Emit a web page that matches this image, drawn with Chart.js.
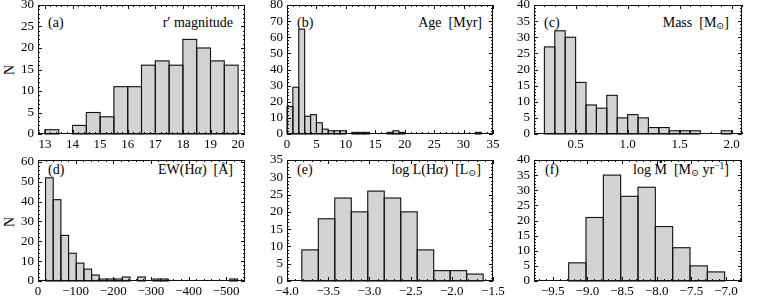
<!DOCTYPE html>
<html><head><meta charset="utf-8">
<script src="https://cdn.jsdelivr.net/npm/chart.js@4/dist/chart.umd.min.js"></script>
<style>
html,body{margin:0;padding:0;background:#fff;}
body{width:764px;height:296px;position:relative;overflow:hidden;font-family:"Liberation Serif","DejaVu Serif",serif;color:#000;}
canvas{position:absolute;}
.lab{position:absolute;font-size:14px;line-height:14px;white-space:nowrap;}
.lab sub{font-size:9.5px;line-height:0;vertical-align:-2px;}
.lab sup{font-size:9.5px;line-height:0;vertical-align:5px;}
.mdot{position:relative;display:inline-block;}
.mdot .d{position:absolute;left:0;right:0;top:-8px;text-align:center;font-size:15px;line-height:14px;font-weight:bold;}
.ylab{position:absolute;width:20px;height:20px;line-height:20px;text-align:center;font-size:14px;transform:rotate(-90deg);}
</style></head><body>
<div class="ylab" style="left:0px;top:60px;">N</div>
<div class="ylab" style="left:0px;top:212px;">N</div>
<div class="lab" style="left:48px;top:16px;">(a)</div>
<div class="lab" style="right:531px;top:16px;">r′ magnitude</div>
<div class="lab" style="left:297px;top:16px;">(b)</div>
<div class="lab" style="right:282px;top:16px;">Age&nbsp;&nbsp;[Myr]</div>
<div class="lab" style="left:544px;top:16px;">(c)</div>
<div class="lab" style="right:35px;top:16px;">Mass&nbsp;&nbsp;[M<sub>⊙</sub>]</div>
<div class="lab" style="left:48px;top:163px;">(d)</div>
<div class="lab" style="right:531px;top:163px;">EW(H<i>α</i>)&nbsp;&nbsp;[Å]</div>
<div class="lab" style="left:297px;top:163px;">(e)</div>
<div class="lab" style="right:283px;top:163px;">log L(H<i>α</i>)&nbsp;&nbsp;[L<sub>⊙</sub>]</div>
<div class="lab" style="left:545px;top:163px;">(f)</div>
<div class="lab" style="right:35px;top:163px;">log <span class="mdot">M<span class="d">·</span></span>&nbsp;&nbsp;[M<sub>⊙</sub> yr<sup>−1</sup>]</div>
<script>
// ---------- data ----------
// (a) r' magnitude
const rmagBinCenters = [13.25,13.75,14.25,14.75,15.25,15.75,16.25,16.75,17.25,17.75,18.25,18.75,19.25,19.75];
const rmagCounts     = [1,0,2,5,4,11,11,16,17,16,22,20,17,16];
// (b) Age [Myr]
const ageBinCenters = [0.5,1.5,2.5,3.5,4.5,5.5,6.5,7.5,8.5,9.5,10.5,11.5,12.5,13.5,14.5,15.5,16.5,17.5,18.5,19.5,20.5,21.5,22.5,23.5,24.5,25.5,26.5,27.5,28.5,29.5,30.5,31.5,32.5];
const ageCounts     = [17,29,65,11,12,7,3,2,2,2,0,1,1,1,0,0,0,1,2,1,0,0,0,0,0,0,0,0,0,0,0,0,1];
// (c) Mass [Msun]
const massBinCenters = [0.25,0.35,0.45,0.55,0.65,0.75,0.85,0.95,1.05,1.15,1.25,1.35,1.45,1.55,1.65,1.75,1.85,1.95];
const massCounts     = [27,32,30,16,9,8,12,5,6,5,2,2,1,1,1,0,0,1];
// (d) EW(Halpha) [A]
const ewBinCenters = [-30.2,-50.6,-71.0,-91.4,-111.8,-132.2,-152.6,-173.0,-193.4,-213.8,-234.2,-254.6,-275.0,-295.4,-315.8,-336.2,-356.6,-377.0,-397.4,-417.8,-438.2,-458.6,-479.0,-499.4,-519.8];
const ewCounts     = [52,41,23,14,9,6,3,1,1,1,2,0,2,0,1,1,0,0,0,0,0,0,0,0,1];
// (e) log L(Halpha) [Lsun]
const lhaBinCenters = [-3.72,-3.52,-3.32,-3.12,-2.92,-2.72,-2.52,-2.32,-2.12,-1.92,-1.72];
const lhaCounts     = [9,18,24,20,26,24,20,9,3,3,2];
// (f) log Mdot [Msun/yr]
const mdotBinCenters = [-9.145,-8.895,-8.645,-8.395,-8.145,-7.895,-7.645,-7.395,-7.145];
const mdotCounts     = [6,21,35,28,31,18,11,5,3];

// ---------- axes ----------
const xAxes = {
  a:{min:12.75,max:20.25,step:1,minor:0.2,dec:0},
  b:{min:0,max:35,step:5,minor:1,dec:0},
  c:{min:0.1,max:2.1,step:0.5,minor:0.1,dec:1},
  d:{min:-550,max:0,step:100,minor:20,dec:0,reverse:true},
  e:{min:-4.0,max:-1.5,step:0.5,minor:0.1,dec:1},
  f:{min:-9.77,max:-6.77,step:0.5,minor:0.1,dec:1}
};
const yAxes = {
  a:{max:30,step:5,minor:1}, b:{max:80,step:10,minor:2}, c:{max:40,step:5,minor:1},
  d:{max:61,step:10,minor:2}, e:{max:35,step:5,minor:1}, f:{max:40,step:5,minor:1}
};

// ---------- layout ----------
const FONT = "'Liberation Serif','DejaVu Serif',serif";
const ML=36, MT=8, MR=18, MB=22;
const panels = [
  {k:'a', L:38,  T:5,   W:207, H:129, c:rmagBinCenters, n:rmagCounts},
  {k:'b', L:287, T:5,   W:206, H:129, c:ageBinCenters,  n:ageCounts},
  {k:'c', L:534, T:5,   W:208, H:129, c:massBinCenters, n:massCounts},
  {k:'d', L:38,  T:160, W:207, H:121, c:ewBinCenters,   n:ewCounts},
  {k:'e', L:287, T:160, W:206, H:121, c:lhaBinCenters,  n:lhaCounts},
  {k:'f', L:534, T:160, W:208, H:121, c:mdotBinCenters, n:mdotCounts}
];

function fmt(v, dec){
  const s = Math.abs(v).toFixed(dec);
  return (v < -1e-12 ? '\u2212' : '') + s;
}
function niceTicks(s, step){
  const lo = Math.min(s.min, s.max), hi = Math.max(s.min, s.max);
  const t = [];
  for (let k = Math.ceil(lo/step - 1e-9); k <= Math.floor(hi/step + 1e-9); k++){
    t.push({value: Math.round(k*step*1e6)/1e6});
  }
  if (s.options.reverse) t.reverse();
  s.ticks = t;
}

const edgePlugin = {
  id:'edges',
  afterDatasetsDraw(chart){
    const ctx = chart.ctx;
    const meta = chart.getDatasetMeta(0);
    ctx.save();
    ctx.strokeStyle = '#111';
    ctx.lineWidth = 1.1;
    meta.data.forEach(el=>{
      const p = el.getProps(['x','y','base','width'], true);
      if (Math.abs(p.base - p.y) < 0.01) return;
      ctx.strokeRect(p.x - p.width/2, p.y, p.width, p.base - p.y);
    });
    ctx.restore();
  }
};

const framePlugin = {
  id:'frame',
  afterDraw(chart){
    const ctx = chart.ctx, a = chart.chartArea;
    const xs = chart.scales.x, ys = chart.scales.y;
    const xo = chart.options.scales.x._minor, yo = chart.options.scales.y._minor;
    ctx.save();
    ctx.strokeStyle = '#111';
    ctx.lineWidth = 1;
    ctx.beginPath();
    const isMajor = (v, st) => Math.abs(v/st - Math.round(v/st)) < 1e-6;
    const xst = chart.options.scales.x._step, yst = chart.options.scales.y._step;
    const drawX = (v, len) => {
      const px = Math.round(xs.getPixelForValue(v)) + 0.5;
      ctx.moveTo(px, a.bottom); ctx.lineTo(px, a.bottom - len);
      ctx.moveTo(px, a.top); ctx.lineTo(px, a.top + len);
    };
    const drawY = (v, len) => {
      const py = Math.round(ys.getPixelForValue(v)) + 0.5;
      ctx.moveTo(a.left, py); ctx.lineTo(a.left + len, py);
      ctx.moveTo(a.right, py); ctx.lineTo(a.right - len, py);
    };
    const lo = Math.min(xs.min, xs.max), hi = Math.max(xs.min, xs.max);
    for (let k = Math.ceil(lo/xo - 1e-9); k <= Math.floor(hi/xo + 1e-9); k++){
      const v = k*xo;
      drawX(v, isMajor(v, xst) ? 4 : 2);
    }
    for (let k = Math.ceil(ys.min/yo - 1e-9); k <= Math.floor(ys.max/yo + 1e-9); k++){
      const v = k*yo;
      drawY(v, isMajor(v, yst) ? 4 : 2);
    }
    ctx.stroke();
    ctx.strokeRect(a.left + 0.5, a.top + 0.5, a.right - a.left - 1, a.bottom - a.top - 1);
    ctx.restore();
  }
};

panels.forEach(p=>{
  const cv = document.createElement('canvas');
  const cw = ML + p.W + MR, ch = MT + p.H + MB;
  cv.width = cw; cv.height = ch;
  cv.style.width = cw + 'px'; cv.style.height = ch + 'px';
  cv.style.left = (p.L - ML) + 'px'; cv.style.top = (p.T - MT) + 'px';
  document.body.appendChild(cv);
  const xa = xAxes[p.k], ya = yAxes[p.k];
  new Chart(cv, {
    type:'bar',
    data:{datasets:[{
      data: p.c.map((x,i)=>({x:x, y:p.n[i]})),
      backgroundColor:'#d3d3d3', borderWidth:0,
      barPercentage:1.0, categoryPercentage:1.0
    }]},
    options:{
      responsive:false, animation:false, devicePixelRatio:1,
      layout:{padding:{left:0, top:MT, right:MR, bottom:0}},
      plugins:{legend:{display:false}, tooltip:{enabled:false}},
      scales:{
        x:{
          type:'linear', offset:false, min:xa.min, max:xa.max, reverse:!!xa.reverse,
          _minor: xa.minor, _step: xa.step,
          grid:{display:false, drawTicks:false}, border:{display:false},
          ticks:{stepSize:xa.step, includeBounds:false, autoSkip:false, maxRotation:0, minRotation:0,
                 padding:3, color:'#000', font:{family:FONT, size:13},
                 callback:(v)=>fmt(v, xa.dec)},
          afterBuildTicks(s){ niceTicks(s, xa.step); },
          afterFit(s){ s.height = MB; s.paddingLeft = 0; s.paddingRight = 0; s.paddingTop = 0; s.paddingBottom = 0; }
        },
        y:{
          type:'linear', min:0, max:ya.max, _minor: ya.minor, _step: ya.step,
          grid:{display:false, drawTicks:false}, border:{display:false},
          ticks:{stepSize:ya.step, includeBounds:false, autoSkip:false,
                 padding:4, color:'#000', font:{family:FONT, size:13},
                 callback:(v)=>fmt(v, 0)},
          afterBuildTicks(s){ niceTicks(s, ya.step); },
          afterFit(s){ s.width = ML; s.paddingLeft = 0; s.paddingRight = 0; s.paddingTop = 0; s.paddingBottom = 0; }
        }
      }
    },
    plugins:[edgePlugin, framePlugin]
  });
});
</script>
</body></html>
